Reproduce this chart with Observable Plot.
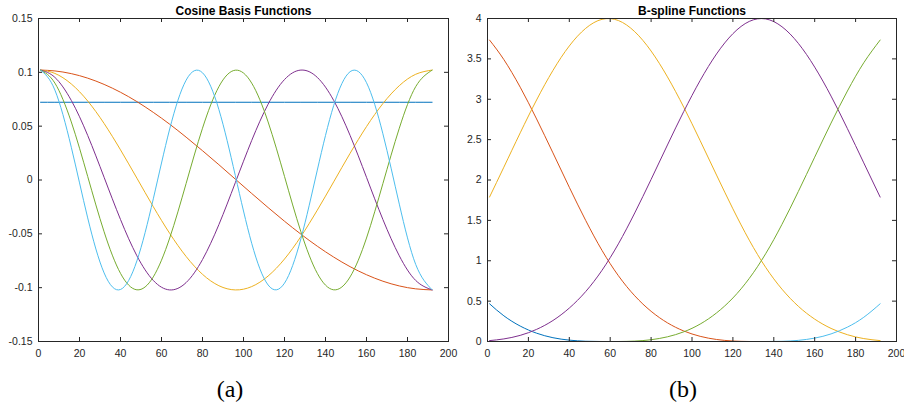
<!DOCTYPE html>
<html>
<head>
<meta charset="utf-8">
<script src="https://cdn.jsdelivr.net/npm/d3@7"></script>
<script src="https://cdn.jsdelivr.net/npm/@observablehq/plot@0.6"></script>
<style>
  html, body { margin: 0; padding: 0; background: #fff; }
  #wrap { position: relative; width: 904px; height: 408px; background: #fff; overflow: hidden; }
  #pa { position: absolute; left: 0; top: 0; }
  #pb { position: absolute; left: 452px; top: 0; }
  #caps { position: absolute; left: 0; top: 0; }
  #wrap svg { overflow: visible; }
</style>
</head>
<body>
<div id="wrap">
  <div id="pa"></div>
  <div id="pb"></div>
  <svg id="caps" width="904" height="408">
    <text x="230" y="397" text-anchor="middle" font-family="Liberation Serif, Times New Roman, serif" font-size="24" fill="#000">(a)</text>
    <text x="683" y="397" text-anchor="middle" font-family="Liberation Serif, Times New Roman, serif" font-size="24" fill="#000">(b)</text>
  </svg>
</div>
<script>
// ---- shared sample positions (sample index n) ----
const xs = [1, 8, 16, 24, 32, 40, 48, 56, 64, 72, 80, 88, 96, 104, 112, 120, 128, 136, 144, 152, 160, 168, 176, 184, 192];

// ---- (a) Cosine basis functions ----
const cosTitle = "Cosine Basis Functions";
const cos0 = [0.0722, 0.0722, 0.0722, 0.0722, 0.0722, 0.0722, 0.0722, 0.0722, 0.0722, 0.0722, 0.0722, 0.0722, 0.0722, 0.0722, 0.0722, 0.0722, 0.0722, 0.0722, 0.0722, 0.0722, 0.0722, 0.0722, 0.0722, 0.0722, 0.0722];
const cos1 = [0.1021, 0.1013, 0.0988, 0.0946, 0.0888, 0.0815, 0.0728, 0.0628, 0.0518, 0.0398, 0.0272, 0.0142, 0.0008, -0.0125, -0.0256, -0.0383, -0.0503, -0.0615, -0.0716, -0.0805, -0.0880, -0.0940, -0.0984, -0.1011, -0.1021];
const cos2 = [0.1021, 0.0990, 0.0892, 0.0734, 0.0525, 0.0280, 0.0017, -0.0248, -0.0496, -0.0710, -0.0876, -0.0982, -0.1021, -0.0990, -0.0892, -0.0734, -0.0525, -0.0280, -0.0017, 0.0248, 0.0496, 0.0710, 0.0876, 0.0982, 0.1021];
const cos3 = [0.1021, 0.0953, 0.0739, 0.0414, 0.0025, -0.0367, -0.0704, -0.0933, -0.1021, -0.0953, -0.0739, -0.0414, -0.0025, 0.0367, 0.0704, 0.0933, 0.1021, 0.0953, 0.0739, 0.0414, 0.0025, -0.0367, -0.0704, -0.0933, -0.1021];
const cos4 = [0.1020, 0.0900, 0.0539, 0.0033, -0.0481, -0.0867, -0.1020, -0.0900, -0.0539, -0.0033, 0.0481, 0.0867, 0.1020, 0.0900, 0.0539, 0.0033, -0.0481, -0.0867, -0.1020, -0.0900, -0.0539, -0.0033, 0.0481, 0.0867, 0.1020];
const cos5 = [0.1020, 0.0835, 0.0304, -0.0352, -0.0863, -0.1017, -0.0751, -0.0175, 0.0474, 0.0927, 0.0996, 0.0654, 0.0042, -0.0588, -0.0975, -0.0958, -0.0546, 0.0092, 0.0692, 0.1006, 0.0904, 0.0429, -0.0224, -0.0784, -0.1020];
const cosXTicks = [0, 20, 40, 60, 80, 100, 120, 140, 160, 180, 200];
const cosYTicks = [-0.15, -0.1, -0.05, 0, 0.05, 0.1, 0.15];
const cosYLabels = ["-0.15", "-0.1", "-0.05", "0", "0.05", "0.1", "0.15"];

// ---- (b) B-spline functions ----
const splTitle = "B-spline Functions";
const spl1 = [0.467, 0.318, 0.191, 0.103, 0.047, 0.017, 0.003, 0, 0, 0, 0, 0, 0, 0, 0, 0, 0, 0, 0, 0, 0, 0, 0, 0, 0];
const spl2 = [3.733, 3.491, 3.149, 2.756, 2.336, 1.910, 1.500, 1.128, 0.815, 0.566, 0.374, 0.231, 0.130, 0.064, 0.025, 0.006, 0, 0, 0, 0, 0, 0, 0, 0, 0];
const spl3 = [1.789, 2.159, 2.584, 2.991, 3.357, 3.660, 3.878, 3.990, 3.975, 3.837, 3.597, 3.277, 2.900, 2.487, 2.061, 1.643, 1.255, 0.919, 0.648, 0.436, 0.277, 0.162, 0.084, 0.036, 0.011];
const spl4 = [0.011, 0.032, 0.076, 0.150, 0.260, 0.414, 0.618, 0.882, 1.209, 1.592, 2.007, 2.434, 2.850, 3.233, 3.561, 3.812, 3.964, 3.995, 3.898, 3.692, 3.398, 3.039, 2.636, 2.212, 1.789];
const spl5 = [0, 0, 0, 0, 0, 0, 0, 0, 0, 0.005, 0.022, 0.058, 0.120, 0.216, 0.354, 0.539, 0.781, 1.086, 1.451, 1.858, 2.283, 2.705, 3.102, 3.452, 3.733];
const spl6 = [0, 0, 0, 0, 0, 0, 0, 0, 0, 0, 0, 0, 0, 0, 0, 0, 0, 0, 0.002, 0.014, 0.042, 0.094, 0.178, 0.300, 0.467];
const splXTicks = [0, 20, 40, 60, 80, 100, 120, 140, 160, 180, 200];
const splYTicks = [0, 0.5, 1, 1.5, 2, 2.5, 3, 3.5, 4];
const splYLabels = ["0", "0.5", "1", "1.5", "2", "2.5", "3", "3.5", "4"];

// MATLAB default line colours
const colors = ["#0072BD", "#D95319", "#EDB120", "#7E2F8E", "#77AC30", "#4DBEEE"];

const axisColor = "#262626";
const font = "Liberation Sans, Arial, Helvetica, sans-serif";

function panel({series, xTicks, yTicks, yLabels, yDomain, title, width, marginLeft, marginRight}) {
  const height = 368, marginTop = 18, marginBottom = 27;
  const fh = height - marginTop - marginBottom;
  const fw = width - marginLeft - marginRight;
  const tick = 4;
  const lines = series.map((vals, k) =>
    Plot.line(xs.map((x, i) => ({x, y: vals[i]})), {
      x: "x", y: "y", stroke: colors[k], strokeWidth: 1, curve: "natural"
    })
  );
  const svg = Plot.plot({
    width, height, marginLeft, marginRight, marginTop, marginBottom,
    style: {fontFamily: font, fontSize: "10.5px", color: axisColor, background: "transparent", overflow: "visible"},
    x: {domain: [0, 200]},
    y: {domain: yDomain},
    marks: [
      ...lines,
      Plot.frame({stroke: axisColor, strokeWidth: 1}),
      // inward ticks on all four sides
      Plot.tickX(xTicks, {x: d => d, insetTop: fh - tick, stroke: axisColor}),
      Plot.tickX(xTicks, {x: d => d, insetBottom: fh - tick, stroke: axisColor}),
      Plot.tickY(yTicks, {y: d => d, insetRight: fw - tick, stroke: axisColor}),
      Plot.tickY(yTicks, {y: d => d, insetLeft: fw - tick, stroke: axisColor}),
      Plot.axisX({ticks: xTicks, tickSize: 0, tickPadding: 8, label: null, tickFormat: d => String(d)}),
      Plot.axisY({ticks: yTicks, tickSize: 0, tickPadding: 6, label: null, tickFormat: d => yLabels[yTicks.indexOf(d)]}),
      Plot.text([title], {text: d => d, frameAnchor: "top", dy: -4, lineAnchor: "bottom", fontWeight: "bold", fontSize: 12, fill: "#000"})
    ]
  });
  return svg;
}

document.getElementById("pa").append(panel({
  series: [cos0, cos1, cos2, cos3, cos4, cos5],
  xTicks: cosXTicks, yTicks: cosYTicks, yLabels: cosYLabels, yDomain: [-0.15, 0.15],
  title: cosTitle, width: 452, marginLeft: 38, marginRight: 4
}));
document.getElementById("pb").append(panel({
  series: [spl1, spl2, spl3, spl4, spl5, spl6],
  xTicks: splXTicks, yTicks: splYTicks, yLabels: splYLabels, yDomain: [0, 4],
  title: splTitle, width: 452, marginLeft: 35, marginRight: 8
}));
</script>
</body>
</html>
